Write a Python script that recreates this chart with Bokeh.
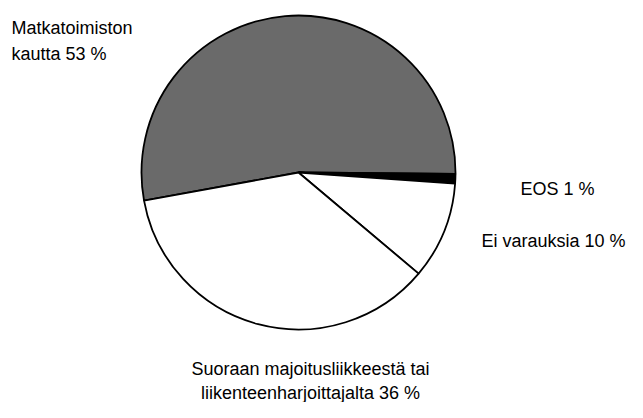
from bokeh.plotting import figure
from bokeh.models import ColumnDataSource
from bokeh.core.properties import value
from bokeh.embed import file_html
from bokeh.resources import INLINE
import math

# ---- data ----
categories = ["Matkatoimiston kautta", "EOS", "Ei varauksia",
              "Suoraan majoitusliikkeestä tai liikenteenharjoittajalta"]
shares = [53, 1, 10, 36]
label_lines = [["Matkatoimiston", "kautta 53 %"],
               ["EOS 1 %"],
               ["Ei varauksia 10 %"],
               ["Suoraan majoitusliikkeestä tai", "liikenteenharjoittajalta 36 %"]]
colors = ["#6a6a6a", "#000000", "#ffffff", "#ffffff"]

W, H = 627, 402
FONT = "Liberation Sans"

p = figure(width=W, height=H, x_range=(0, W), y_range=(0, H),
           output_backend="svg", toolbar_location=None, min_border=0)
p.axis.visible = False
p.grid.visible = False
p.outline_line_color = None
p.background_fill_color = "white"
p.border_fill_color = "white"

# pie geometry (layout)
cx, cy, r = 298, 230, 157
start_deg = 190.3
total = sum(shares)
starts, ends = [], []
a = start_deg
for s in shares:
    starts.append(math.radians(a))
    a -= s / total * 360.0
    ends.append(math.radians(a))

src = ColumnDataSource(dict(x=[cx] * len(shares), y=[cy] * len(shares),
                            start=starts, end=ends, color=colors, cat=categories))
p.wedge(x="x", y="y", radius=r, radius_units="screen", start_angle="start",
        end_angle="end", direction="clock", fill_color="color",
        line_color="black", line_width=1.8, source=src)

# labels (positions are layout)
label_pos = [(11, 375, "left", 26), (520, 214, "left", 0),
             (625, 162, "right", 0), (310, 34, "center", 24)]
for lines, (lx, ly, align, dy) in zip(label_lines, label_pos):
    ys = [ly - dy * i for i in range(len(lines))]
    p.text(x=[lx] * len(lines), y=ys, text=lines, text_font=value(FONT),
           text_font_size="18px", text_color="black", text_align=align,
           text_baseline="alphabetic")

open("out.html", "w").write(file_html(p, INLINE))
